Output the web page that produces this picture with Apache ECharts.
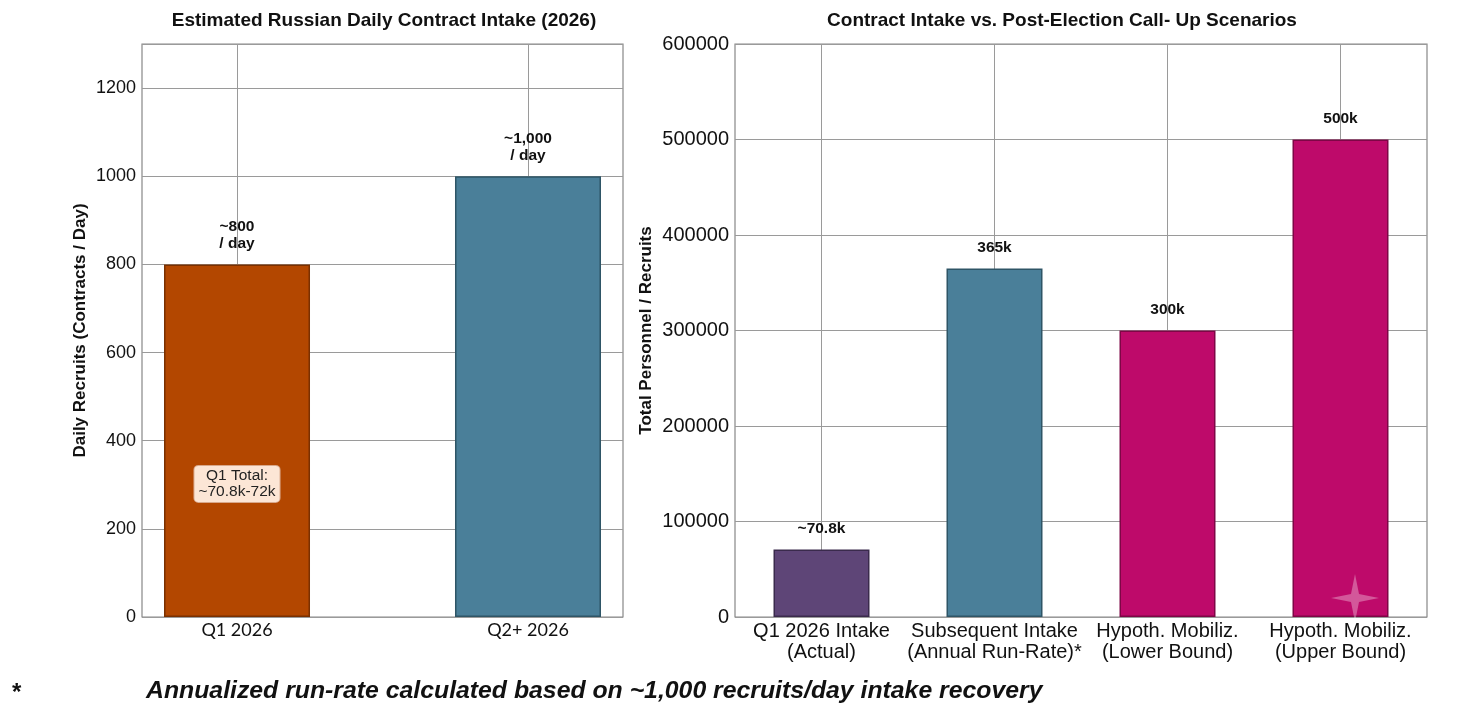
<!DOCTYPE html>
<html>
<head>
<meta charset="utf-8">
<script src="https://cdn.jsdelivr.net/npm/echarts@6/dist/echarts.min.js"></script>
<style>
  html, body { margin: 0; padding: 0; background: #fff; }
  #chart { width: 1475px; height: 720px; }
</style>
</head>
<body>
<div id="chart"></div>
<script>
// 左图：日均合同兵
var dailyCats = ['Q1 2026', 'Q2+ 2026'];
var dailyValues = [800, 1000];
var dailyLabels = ['~800\n/ day', '~1,000\n/ day'];
var dailyColors = ['#B34700', '#4A7F99'];
var dailyBorders = ['#7A3000', '#2E5566'];

// 右图：情景对比
var scenarioCats = ['Q1 2026 Intake\n(Actual)', 'Subsequent Intake\n(Annual Run-Rate)*', 'Hypoth. Mobiliz.\n(Lower Bound)', 'Hypoth. Mobiliz.\n(Upper Bound)'];
var scenarioValues = [70800, 365000, 300000, 500000];
var scenarioLabels = ['~70.8k', '365k', '300k', '500k'];
var scenarioColors = ['#5E4577', '#4A7F99', '#BE0A6A', '#BE0A6A'];
var scenarioBorders = ['#3A2A4C', '#2E5566', '#7E0646', '#7E0646'];

var chart = echarts.init(document.getElementById('chart'));
var font = 'Liberation Sans, Arial, sans-serif';
var plain = function (v) { return String(v); };

var option = {
  animation: false,
  textStyle: { fontFamily: font },
  title: [
    { text: 'Estimated Russian Daily Contract Intake (2026)', left: 379, top: 6, textAlign: 'center',
      textStyle: { fontSize: 19, fontWeight: 'bold', color: '#111', fontFamily: font } },
    { text: 'Contract Intake vs. Post-Election Call- Up Scenarios', left: 1057, top: 6, textAlign: 'center',
      textStyle: { fontSize: 19, fontWeight: 'bold', color: '#111', fontFamily: font } }
  ],
  grid: [
    { left: 142, top: 44, width: 481, height: 573, show: true, borderColor: '#888', borderWidth: 1.2, backgroundColor: '#fff' },
    { left: 735, top: 44, width: 692, height: 573, show: true, borderColor: '#888', borderWidth: 1.2, backgroundColor: '#fff' }
  ],
  xAxis: [
    {
      type: 'value', gridIndex: 0, min: -0.3265, max: 1.3265,
      axisLine: { show: false }, axisTick: { show: false }, splitLine: { show: false },
      axisLabel: {
        customValues: [0, 1],
        formatter: function (v) { return dailyCats[Math.round(v)]; },
        fontFamily: 'Lato, sans-serif', fontSize: 18, color: '#111', margin: 4
      }
    },
    {
      type: 'category', gridIndex: 1, data: scenarioCats,
      axisLine: { show: false }, axisTick: { show: false },
      splitLine: { show: false },
      axisLabel: { fontSize: 20, color: '#111', lineHeight: 21, margin: 4, interval: 0 }
    }
  ],
  yAxis: [
    {
      type: 'value', gridIndex: 0, min: 0, max: 1300, interval: 200,
      name: 'Daily Recruits (Contracts / Day)', nameLocation: 'middle', nameGap: 53, nameRotate: 90,
      nameTextStyle: { fontSize: 17, fontWeight: 'bold', color: '#111' },
      axisLine: { show: false }, axisTick: { show: false },
      axisLabel: { fontSize: 18, color: '#111', margin: 6, showMaxLabel: false, formatter: plain },
      splitLine: { lineStyle: { color: '#9a9a9a', width: 1 } }
    },
    {
      type: 'value', gridIndex: 1, min: 0, max: 600000, interval: 100000,
      name: 'Total Personnel / Recruits', nameLocation: 'middle', nameGap: 80, nameRotate: 90,
      nameTextStyle: { fontSize: 17, fontWeight: 'bold', color: '#111' },
      axisLine: { show: false }, axisTick: { show: false },
      axisLabel: { fontSize: 20, color: '#111', margin: 6, formatter: plain },
      splitLine: { lineStyle: { color: '#9a9a9a', width: 1 } }
    }
  ],
  series: [
    {
      type: 'bar', xAxisIndex: 0, yAxisIndex: 0, barWidth: 146,
      data: dailyValues.map(function (v, i) {
        return { value: [i, v], itemStyle: { color: dailyColors[i], borderColor: dailyBorders[i] } };
      }),
      itemStyle: { borderWidth: 1.5 },
      label: {
        show: true, position: 'top', distance: 12, fontSize: 15.5, fontWeight: 'bold', lineHeight: 17, color: '#111',
        formatter: function (p) { return dailyLabels[p.dataIndex]; }
      },
      markLine: {
        silent: true, symbol: 'none', z: 1, animation: false,
        label: { show: false },
        lineStyle: { color: '#9a9a9a', width: 1, type: 'solid' },
        data: [{ xAxis: 0 }, { xAxis: 1 }]
      },
      markPoint: {
        silent: true, symbol: 'rect', symbolSize: 0,
        data: [{ coord: [0, 302] }],
        label: {
          show: true, position: 'inside', formatter: 'Q1 Total:\n~70.8k-72k',
          fontSize: 15.5, lineHeight: 16, color: '#222',
          backgroundColor: '#FCE6D6', borderColor: '#D9A88A', borderWidth: 1, borderRadius: 4,
          padding: [2, 4]
        }
      }
    },
    {
      type: 'bar', xAxisIndex: 1, yAxisIndex: 1, barWidth: 96,
      data: scenarioValues.map(function (v, i) {
        return { value: v, itemStyle: { color: scenarioColors[i], borderColor: scenarioBorders[i] } };
      }),
      itemStyle: { borderWidth: 1.5 },
      label: {
        show: true, position: 'top', distance: 13, fontSize: 15.5, fontWeight: 'bold', color: '#111',
        formatter: function (p) { return scenarioLabels[p.dataIndex]; }
      },
      markLine: {
        silent: true, symbol: 'none', z: 1, animation: false,
        label: { show: false },
        lineStyle: { color: '#9a9a9a', width: 1, type: 'solid' },
        data: scenarioCats.map(function (c) { return { xAxis: c }; })
      }
    }
  ],
  graphic: [
    { type: 'text', left: 12, top: 681, style: { text: '*', fontSize: 24, fontWeight: 'bold', fill: '#111', fontFamily: font } },
    { type: 'text', left: 146, top: 679,
      style: { text: 'Annualized run-rate calculated based on ~1,000 recruits/day intake recovery',
        fontSize: 24.8, fontWeight: 'bold', fontStyle: 'italic', fill: '#111', fontFamily: font } },
    // 右下角水印星形
    { type: 'polygon', x: 1355, y: 598, z: 100, silent: true,
      shape: { points: [[0, -24], [4, -4], [24, 0], [4, 4], [0, 24], [-4, 4], [-24, 0], [-4, -4]] },
      style: { fill: 'rgba(255,255,255,0.32)' } }
  ]
};

chart.setOption(option);
</script>
</body>
</html>
